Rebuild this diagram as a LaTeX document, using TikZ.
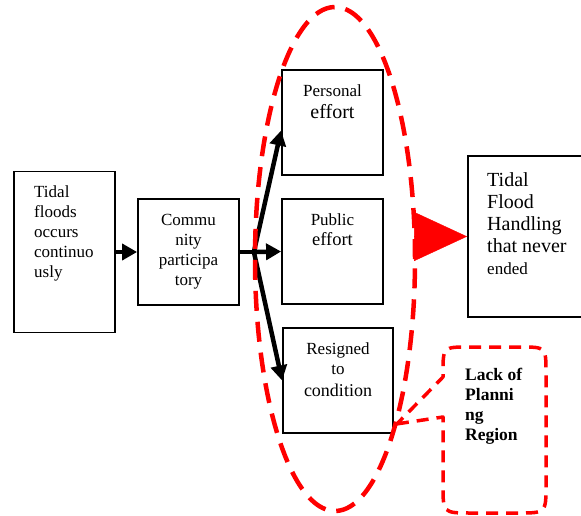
\documentclass[tikz,border=0pt]{standalone}
\usepackage{fontspec}
\setmainfont{Liberation Serif}
\usepackage{tikz}
\usetikzlibrary{calc}
\usetikzlibrary{arrows.meta}
\usetikzlibrary{shapes.geometric}

\begin{document}
\begin{tikzpicture}[x=1pt, y=-1pt,
  box/.style={draw, line width=1.8pt, inner sep=0pt, minimum width=101pt, minimum height=105pt},
  flow/.style={line width=4.5pt, -{Triangle[length=15pt,width=16pt]}},
  txt/.style={inner sep=0pt, font=\fontsize{17}{20}\selectfont},
  ring/.style={draw=red, line width=4.5pt, dash pattern=on 20pt off 11pt},
  note/.style={draw=red, line width=3.5pt, dash pattern=on 12pt off 8pt}]

  \clip (0,0) rectangle (581,516);

  % Boxes
  \node[box, minimum height=161pt] (floods)   at (64.5,252)   {};
  \node[box, minimum height=106pt] (commun)   at (188.5,252)  {};
  \node[box]                       (personal) at (332.5,122.5) {};
  \node[box]                       (public)   at (332.5,251.5) {};
  \node[box, minimum width=110pt]  (resigned) at (338,380.5)  {};
  \node[box, minimum width=140pt, minimum height=161pt] (flood) at (538,236.5) {};

  % Box texts (base = last line)
  \node[txt, anchor=base west, align=left] (floodsText) at (34,277) {Tidal\\floods\\occurs\\continuo\\usly};
  \node[txt, anchor=base, align=center] (communText) at (188.5,285) {Commu\\nity\\participa\\tory};
  \node[txt, anchor=base, align=center] (personalText) at (332.5,119) {Personal\\[2pt]{\fontsize{20}{22}\selectfont effort}};
  \node[txt, anchor=base, align=center] (publicText) at (332.5,245) {Public\\{\fontsize{18.5}{20}\selectfont effort}};
  \node[txt, anchor=base, align=center] (resignedText) at (338,396) {Resigned\\to\\[2pt]{\fontsize{18}{20}\selectfont condition}};
  \node[txt, anchor=base west, align=left, font=\fontsize{20}{22}\selectfont] (floodText) at (487,274)
    {Tidal\\Flood\\Handling\\that never\\{\fontsize{17}{20}\selectfont ended}};

  % Arrows
  \coordinate (split) at ($(commun.east)+(14,0)$);
  \draw[flow] (floods.east) -- (commun.west);
  \draw[line width=4.5pt] (commun.east) -- (split);
  \draw[flow] (split) -- ($(personal.west)!0.15!(personal.south west)$);
  \draw[flow] (split) -- (public.west);
  \draw[flow] (split) -- (resigned.west);

  % Group of responses
  \node[ring, ellipse, inner sep=0pt, minimum width=160pt, minimum height=504pt] (group) at (335,259) {};
  \draw[red, -{Triangle[length=53pt,width=49pt]}] (group.east |- flood.west) -- (flood.west);

  % Callout
  \coordinate (tip) at ($(resigned.south east)+(3,-10)$);
  \draw[note, line join=round] (tip) -- (443,417) -- (443,485) .. controls (443,513) .. (471,513)
    -- (518,513) .. controls (546,513) .. (546,485) -- (546,373) .. controls (546,347) .. (520,347)
    -- (469,347) .. controls (443,347) .. (443,373) -- (443,377) -- cycle;
  \node[txt, anchor=base west, align=left, font=\fontsize{17.5}{20}\selectfont\bfseries] (lackText) at (465,440)
    {Lack of\\Planni\\ng\\Region};
\end{tikzpicture}
\end{document}
